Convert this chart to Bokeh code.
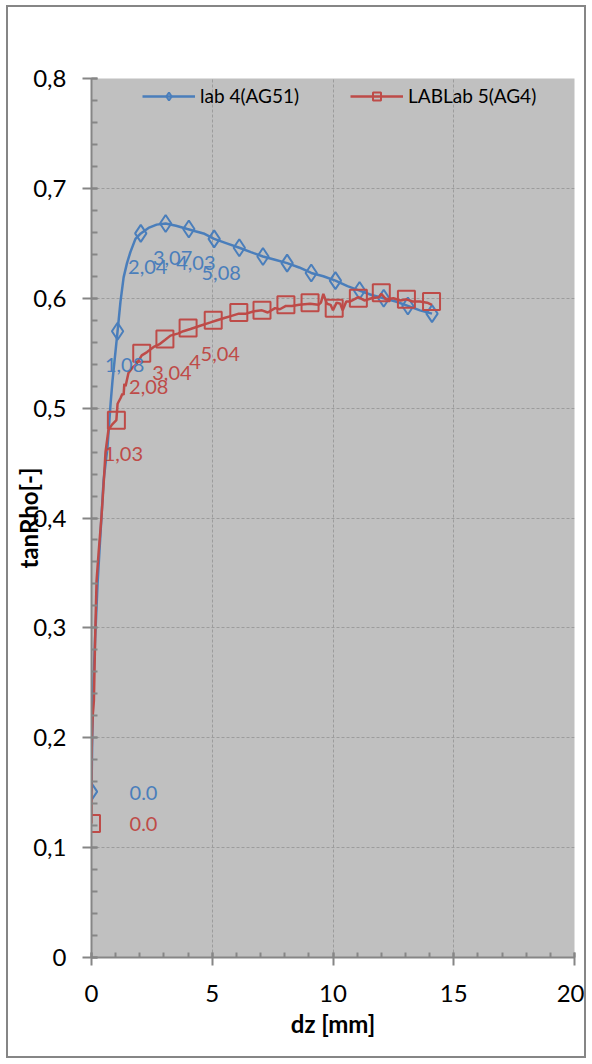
from bokeh.plotting import figure
from bokeh.models import (Range1d, SingleIntervalTicker, CustomJSTickFormatter, Legend,
                          LegendItem)
from bokeh.core.properties import value
from bokeh.embed import file_html
from bokeh.resources import INLINE

# ---------------- data ----------------
# lab 4(AG51) - dense curve
blue_line_x = [0, 0.03, 0.08, 0.15, 0.25, 0.41, 0.5, 0.66, 0.79, 0.87, 1.08, 1.2, 1.33, 1.47,
               1.61, 1.82, 2.04, 2.36, 2.7, 3.07, 3.5, 3.97, 4.3, 4.64, 5.08, 5.6, 6.12, 6.6,
               7.1, 7.6, 8.1, 8.6, 9.1, 9.6, 10.1, 10.6, 11.1, 11.6, 12.1, 12.6, 13.1, 13.6, 14.1]
blue_line_y = [0.151, 0.2, 0.25, 0.29, 0.34, 0.40, 0.434, 0.464, 0.504, 0.525, 0.570, 0.597,
               0.619, 0.632, 0.642, 0.654, 0.659, 0.664, 0.667, 0.668, 0.666, 0.663, 0.661,
               0.659, 0.654, 0.650, 0.646, 0.642, 0.638, 0.635, 0.632, 0.628, 0.623, 0.620,
               0.616, 0.611, 0.607, 0.603, 0.600, 0.597, 0.593, 0.589, 0.586]
# lab 4(AG51) - markers
blue_mark_x = [0, 1.08, 2.04, 3.07, 4.03, 5.08, 6.12, 7.1, 8.1, 9.1, 10.1, 11.1, 12.1, 13.1, 14.1]
blue_mark_y = [0.151, 0.570, 0.659, 0.668, 0.663, 0.654, 0.646, 0.638, 0.632, 0.623, 0.616,
               0.607, 0.600, 0.593, 0.586]
blue_labels = ["0.0", "1,08", "2,04", "3,07", "4,03", "5,08"]

# LABLab 5(AG4) - dense curve
red_line_x = [0, 0.0, 0.02, 0.05, 0.1, 0.15, 0.21, 0.3, 0.41, 0.5, 0.58, 0.7, 0.85, 1.03, 1.08,
              1.2, 1.28, 1.33, 1.36, 1.41, 1.53, 1.7, 1.82, 2.0, 2.08, 2.3, 2.6, 2.8, 3.04, 3.27,
              3.6, 3.8, 4.1, 4.5, 4.93, 5.2, 5.5, 5.8, 6.1, 6.4, 6.7, 7.06, 7.3, 7.6, 7.8, 8.05,
              8.3, 8.6, 9.05, 9.4, 9.5, 9.6, 9.75, 9.9, 10.0, 10.15, 10.3, 10.4, 10.55, 10.7,
              11.05, 11.3, 11.6, 11.9, 12.0, 12.2, 12.5, 12.8, 13.04, 13.3, 13.6, 13.9, 14.1]
red_line_y = [0.122, 0.18, 0.2, 0.22, 0.234, 0.29, 0.343, 0.37, 0.40, 0.43, 0.46, 0.48, 0.485,
              0.489, 0.504, 0.509, 0.513, 0.512, 0.522, 0.52, 0.532, 0.537, 0.539, 0.545, 0.548,
              0.551, 0.556, 0.558, 0.562, 0.566, 0.568, 0.570, 0.572, 0.575, 0.578, 0.580, 0.582,
              0.584, 0.586, 0.586, 0.588, 0.589, 0.587, 0.591, 0.590, 0.593, 0.593, 0.594, 0.595,
              0.594, 0.596, 0.604, 0.595, 0.594, 0.589, 0.596, 0.595, 0.589, 0.597, 0.597, 0.601,
              0.598, 0.600, 0.601, 0.604, 0.599, 0.600, 0.598, 0.599, 0.597, 0.597, 0.596, 0.594]
# LABLab 5(AG4) - markers
red_mark_x = [0, 1.03, 2.08, 3.04, 4.0, 5.04, 6.1, 7.06, 8.05, 9.05, 10.05, 11.05, 12.0, 13.04, 14.08]
red_mark_y = [0.122, 0.489, 0.550, 0.563, 0.573, 0.580, 0.587, 0.589, 0.594, 0.596, 0.591,
              0.600, 0.605, 0.599, 0.597]
red_labels = ["0.0", "1,03", "2,08", "3,04", "4", "5,04"]

series_names = ["lab 4(AG51)", "LABLab 5(AG4)"]
x_title = "dz [mm]"
y_title = "tanRho[-]"

# ---------------- styling ----------------
FONT = "Lato"
BLUE = "#4A7EBB"
RED = "#BE4B48"
AXIS = "#868686"

p = figure(width=580, height=1053, output_backend="svg", toolbar_location=None,
           x_range=Range1d(0, 20), y_range=Range1d(0, 0.8),
           min_border_left=83, min_border_right=14, min_border_top=71, min_border_bottom=103,
           background_fill_color="#C0C0C0", border_fill_color="white",
           styles={"border": "2px solid #868686", "margin-left": "6px", "margin-top": "5px"})
p.outline_line_color = None

xt = SingleIntervalTicker(interval=5, num_minor_ticks=5)
yt = SingleIntervalTicker(interval=0.1, num_minor_ticks=5)
p.xaxis.ticker = xt
p.yaxis.ticker = yt
p.xgrid.ticker = xt
p.ygrid.ticker = yt
for g in (p.xgrid[0], p.ygrid[0]):
    g.grid_line_color = "#9c9c9c"
    g.grid_line_dash = "3 2"
    g.grid_line_width = 1

p.yaxis.formatter = CustomJSTickFormatter(
    code="return Math.abs(tick) < 1e-9 ? '0' : tick.toFixed(1).replace('.', ',');")

for ax in (p.xaxis[0], p.yaxis[0]):
    ax.axis_line_color = AXIS
    ax.axis_line_width = 2
    ax.major_tick_line_color = AXIS
    ax.major_tick_line_width = 2
    ax.minor_tick_line_color = AXIS
    ax.minor_tick_line_width = 2
    ax.major_label_text_font = FONT
    ax.major_label_text_font_size = "24px"
    ax.major_label_text_color = "black"
    ax.axis_label_text_font = FONT
    ax.axis_label_text_font_size = "24px"
    ax.axis_label_text_font_style = "bold"
    ax.axis_label_text_color = "black"

p.yaxis.major_tick_in = 6
p.yaxis.major_tick_out = 9
p.yaxis.minor_tick_in = 6
p.yaxis.minor_tick_out = 0
p.yaxis.major_label_standoff = 16
p.yaxis.axis_label = y_title
p.yaxis.axis_label_standoff = -13

p.xaxis.major_tick_in = 5
p.xaxis.major_tick_out = 8
p.xaxis.minor_tick_in = 5
p.xaxis.minor_tick_out = 0
p.xaxis.major_label_standoff = 19
p.xaxis.axis_label = x_title
p.xaxis.axis_label_standoff = 4

bl = p.line(blue_line_x, blue_line_y, line_color=BLUE, line_width=2.5)
bm = p.scatter(blue_mark_x, blue_mark_y, marker="diamond", size=17, line_color=BLUE,
               line_width=2, fill_alpha=0)
rl = p.line(red_line_x, red_line_y, line_color=RED, line_width=2.5)
rm = p.scatter(red_mark_x, red_mark_y, marker="square", size=17, line_color=RED,
               line_width=2, fill_alpha=0)

lab_kw = dict(text_align="center", text_baseline="middle", text_font=value(FONT),
              text_font_size="20px")
p.text(blue_mark_x[1:6], blue_mark_y[1:6], text=blue_labels[1:6], x_offset=7, y_offset=34,
       text_color=BLUE, **lab_kw)
p.text(blue_mark_x[:1], blue_mark_y[:1], text=blue_labels[:1], x_offset=52, y_offset=1,
       text_color=BLUE, **lab_kw)
p.text(red_mark_x[1:6], red_mark_y[1:6], text=red_labels[1:6], x_offset=7, y_offset=34,
       text_color=RED, **lab_kw)
p.text(red_mark_x[:1], red_mark_y[:1], text=red_labels[:1], x_offset=52, y_offset=1,
       text_color=RED, **lab_kw)

legend = Legend(items=[LegendItem(label=series_names[0], renderers=[bl, bm]),
                       LegendItem(label=series_names[1], renderers=[rl, rm])],
                orientation="horizontal", location=(51, 850), background_fill_alpha=0,
                border_line_color=None, padding=0, margin=0, glyph_width=53, glyph_height=20,
                label_standoff=5, spacing=51, label_text_font=FONT,
                label_text_font_size="19px", label_text_color="black")
p.add_layout(legend)

open("out.html", "w").write(file_html(p, INLINE))
